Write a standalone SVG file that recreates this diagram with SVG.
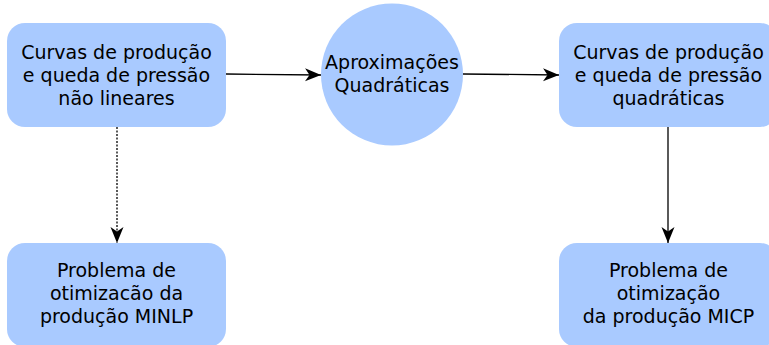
<svg xmlns="http://www.w3.org/2000/svg" width="769" height="345" viewBox="0 0 769 345">
  <defs>
    <style>
      .node { fill: #a9caff; stroke: none; }
      .label { font-family: "DejaVu Sans", "Liberation Sans", sans-serif; font-size: 19px; fill: #000000; text-anchor: middle; }
      .edge { fill: none; stroke: #000000; stroke-width: 1.3; }
      .dotted { stroke-dasharray: 2 1.5; }
    </style>
    <marker id="arrow" viewBox="0 0 17 14" refX="16" refY="7" markerWidth="17" markerHeight="14" markerUnits="userSpaceOnUse" orient="auto">
      <path d="M0,0.5 L16,7 L0,13.5 L4.5,7 Z" fill="#000000"/>
    </marker>
  </defs>

  <rect width="769" height="345" fill="#ffffff"/>

  <g id="connectors">
    <path class="edge" d="M226,74 L321,75" marker-end="url(#arrow)"/>
    <path class="edge" d="M463,74 L559,75" marker-end="url(#arrow)"/>
    <path class="edge dotted" d="M117,127 L117,243" marker-end="url(#arrow)"/>
    <path class="edge" d="M668,127 L668,243" marker-end="url(#arrow)"/>
  </g>

  <g id="curvas-nao-lineares">
    <rect class="node" x="7" y="23" width="219" height="104" rx="18"/>
    <text class="label" x="116.5" y="59">Curvas de produção</text>
    <text class="label" x="116.5" y="82">e queda de pressão</text>
    <text class="label" x="116.5" y="105">não lineares</text>
  </g>

  <g id="aproximacoes">
    <ellipse class="node" cx="392" cy="74.5" rx="71" ry="71"/>
    <text class="label" x="392" y="69">Aproximações</text>
    <text class="label" x="392" y="92">Quadráticas</text>
  </g>

  <g id="curvas-quadraticas">
    <rect class="node" x="559" y="23" width="219" height="104" rx="18"/>
    <text class="label" x="668.5" y="59">Curvas de produção</text>
    <text class="label" x="668.5" y="82">e queda de pressão</text>
    <text class="label" x="668.5" y="105">quadráticas</text>
  </g>

  <g id="problema-minlp">
    <rect class="node" x="7" y="243" width="219" height="104" rx="18"/>
    <text class="label" x="116.5" y="277">Problema de</text>
    <text class="label" x="116.5" y="300">otimizacão da</text>
    <text class="label" x="116.5" y="323">produção MINLP</text>
  </g>

  <g id="problema-micp">
    <rect class="node" x="559" y="243" width="219" height="104" rx="18"/>
    <text class="label" x="668.5" y="277">Problema de</text>
    <text class="label" x="668.5" y="300">otimização</text>
    <text class="label" x="668.5" y="323">da produção MICP</text>
  </g>
</svg>
